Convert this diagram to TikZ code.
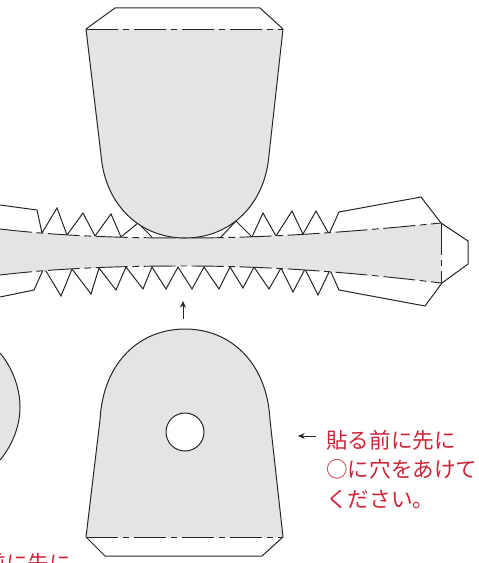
\documentclass[tikz,border=0pt]{standalone}
\usepackage{fontspec}
\newfontfamily\cjk{Noto Sans CJK JP}
\usetikzlibrary{arrows.meta}
\definecolor{partgray}{HTML}{E4E4E4}
\definecolor{notered}{HTML}{CC2438}
\tikzset{
  outline/.style={draw=black!85,line width=0.75pt,line join=miter},
  graypart/.style={fill=partgray,draw=none},
  foldline/.style={draw=black!85,line width=0.7pt,dash pattern=on 24pt off 3.5pt on 5pt off 3.5pt},
  note/.style={text=notered,font=\cjk\fontsize{16.2pt}{22pt}\selectfont,align=left,inner sep=0pt},
  tinyarrow/.style={draw=black!85,line width=0.7pt,-{Stealth[length=5pt,width=4.5pt]}}
}
\begin{document}
\begin{tikzpicture}[x=0.75pt,y=-0.75pt]
\useasboundingbox (0,0) rectangle (478,563);
\clip (0,0) rectangle (478,563);
% band tabs and teeth
\draw[outline] (0,205) -- (37,210) -- (42,233) -- (57,208) -- (67,235) -- (83,213) -- (95,236) -- (111,214) -- (121,237) -- (138,223) -- (152,237);
\draw[outline] (221,237) -- (236,221) -- (252,237) -- (263,213) -- (276,236) -- (292,211) -- (303,234) -- (316,211) -- (329,234) -- (339,212) -- (421,197) -- (441,223) -- (468,241) -- (468,264) -- (442,283) -- (425,306) -- (339,290) -- (330,270) -- (318,295) -- (305,269) -- (293,292) -- (281,268) -- (269,289) -- (254,267) -- (243,288) -- (230,267) -- (219,289) -- (204,267) -- (192,289) -- (178,267) -- (166,289) -- (152,267) -- (143,289) -- (126,267) -- (116,290) -- (99,268) -- (91,294) -- (72,269) -- (61,296) -- (46,271) -- (43,270) -- (34,290) -- (0,297);
% band
\fill[graypart] (0,229) .. controls (60,236) and (120,238) .. (185,238) .. controls (270,238) and (350,232) .. (441,223) -- (441,283) .. controls (350,272) and (270,266) .. (185,266) .. controls (120,266) and (60,268) .. (0,275) -- cycle;
\draw[foldline] (0,229) .. controls (60,236) and (120,238) .. (185,238) .. controls (270,238) and (350,232) .. (441,223);
\draw[foldline] (0,275) .. controls (60,268) and (120,266) .. (185,266) .. controls (270,266) and (350,272) .. (441,283);
\draw[foldline] (441,223) -- (441,283);
% top part
\draw[outline] (86,29) -- (115,8) -- (260,8) -- (283,29);
\path[graypart] (86,29) -- (101,155) .. controls (105,205) and (140,238) .. (185,238) .. controls (230,238) and (265,205) .. (269,155) -- (283,29) -- cycle;
\draw[outline] (86,29) -- (101,155) .. controls (105,205) and (140,238) .. (185,238) .. controls (230,238) and (265,205) .. (269,155) -- (283,29);
\draw[foldline] (86,29) -- (283,29);
% bottom part
\path[graypart] (86,537) -- (100,420) .. controls (103,362) and (140,329) .. (185,329) .. controls (230,329) and (267,362) .. (270,420) -- (283,537) -- cycle;
\draw[outline] (86,537) -- (100,420) .. controls (103,362) and (140,329) .. (185,329) .. controls (230,329) and (267,362) .. (270,420) -- (283,537);
\draw[foldline] (86,537) -- (283,537);
\draw[outline] (86,537) -- (105,556) -- (262,556) -- (283,537);
\node[circle,outline,fill=white,minimum size=28.5pt,inner sep=0pt] (hole) at (185,432) {};
% left partial part
\draw[outline,fill=partgray] (0,353) .. controls (11,366) and (20,386) .. (20,407) .. controls (20,428) and (11,447) .. (0,460);
% arrows
\coordinate (upS) at (183,319); \coordinate (upE) at (183,301);
\coordinate (leftS) at (316,436); \coordinate (leftE) at (298,436);
\draw[tinyarrow] (upS) -- (upE);
\draw[tinyarrow] (leftS) -- (leftE);
% notes
\node[note,anchor=north west] (noteA) at (326,430) {貼る前に先に\\○に穴をあけて\\ください。};
\node[note,anchor=north west] (noteB) at (-59,553) {貼る前に先に};
\end{tikzpicture}
\end{document}
